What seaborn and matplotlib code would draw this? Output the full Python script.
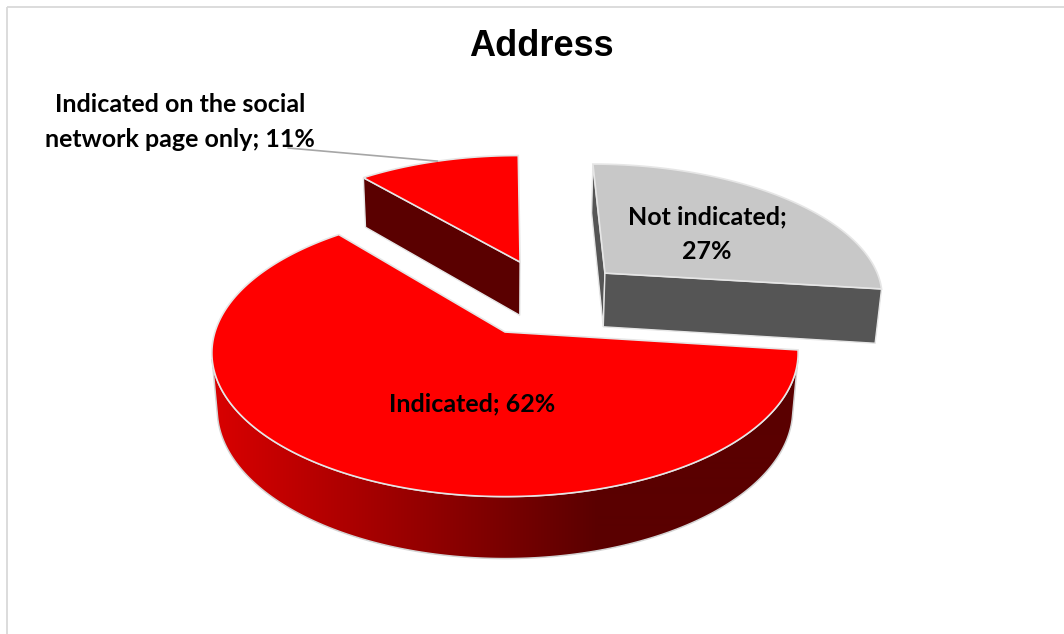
import textwrap

import numpy as np
import matplotlib
matplotlib.use("Agg")
import matplotlib.pyplot as plt
from matplotlib.patches import Polygon, Rectangle
import seaborn as sns

# ---- data -------------------------------------------------------------
title = "Address"
categories = ["Not indicated", "Indicated", "Indicated on the social network page only"]
shares = [27, 62, 11]  # percent

# ---- styling / layout -------------------------------------------------
top_colors = ["#c8c8c8", "#ff0000", "#ff0000"]
cut_colors = ["#555555", "#5a0000", "#5a0000"]
side_ramps = [["#6a6a6a", "#4a4a4a"], ["#d80000", "#5a0000"], ["#d80000", "#5a0000"]]
explode_offsets = [(0.367, 0.446), (0.0, 0.0), (0.056, 0.536)]  # slice shift in pie radii
wrap_widths = [14, 20, 23]
label_xy = [(707, 234), (472, 404), (180, 122)]
draw_order = [2, 0, 1]  # back to front

sns.set_theme(style="white")
plt.rcParams["font.family"] = ["Lato", "DejaVu Sans"]
plt.rcParams["text.color"] = "black"

W, H = 1064, 634
fig = plt.figure(figsize=(W / 100, H / 100), dpi=100)
ax = fig.add_axes([0, 0, 1, 1])
ax.axis("off")

# ---- simple perspective camera for a tilted 3-D pie --------------------
PHI = np.radians(29.0)
DIST = 6.0
SCALE = 290.0
CX, CY = 505.0, 332.0
THICK = 0.225
cphi, sphi = np.cos(PHI), np.sin(PHI)
camera = np.array([0.0, -DIST * cphi, DIST * sphi])


def project(X, Y, Z):
    X, Y, Z = np.asarray(X, float), np.asarray(Y, float), np.asarray(Z, float)
    depth = DIST + Y * cphi - Z * sphi
    sx = X * DIST / depth
    sy = (Y * sphi + Z * cphi) * DIST / depth
    return CX + SCALE * sx, CY - SCALE * sy


def faces_camera(normal, point):
    return np.dot(normal, camera - np.asarray(point)) > 0


EDGE = "#e6e6e6"
bounds = np.radians(360.0 * np.cumsum([0] + shares) / sum(shares))
xs = np.arange(W) + 0.5

for i in draw_order:
    a0, a1 = bounds[i], bounds[i + 1]
    ox, oy = explode_offsets[i]
    n = max(12, int(np.degrees(a1 - a0) * 2))
    th = np.linspace(a0, a1, n)
    rx, ry = ox + np.sin(th), oy + np.cos(th)

    # radial cut faces
    for ang, normal in ((a0, (-np.cos(a0), np.sin(a0), 0.0)),
                        (a1, (np.cos(a1), -np.sin(a1), 0.0))):
        if not faces_camera(normal, (ox, oy, 0.0)):
            continue
        ex, ey = ox + np.sin(ang), oy + np.cos(ang)
        px, py = project([ox, ex, ex, ox], [oy, ey, ey, oy], [0, 0, -THICK, -THICK])
        ax.add_patch(Polygon(np.column_stack([px, py]), closed=True,
                             facecolor=cut_colors[i], edgecolor=EDGE, lw=1.0, zorder=2))

    # outer curved wall, shaded with a horizontal ramp
    tx, ty = project(rx, ry, np.zeros(n))
    bx, by = project(rx, ry, np.full(n, -THICK))
    tm = 0.5 * (th[:-1] + th[1:])
    vis = [j for j in range(n - 1)
           if faces_camera((np.sin(tm[j]), np.cos(tm[j]), 0.0),
                           (ox + np.sin(tm[j]), oy + np.cos(tm[j]), -THICK / 2))]
    if vis:
        k0, k1 = vis[0], vis[-1] + 2
        wall = np.vstack([np.column_stack([tx[k0:k1], ty[k0:k1]]),
                          np.column_stack([bx[k0:k1], by[k0:k1]])[::-1]])
        wall_patch = Polygon(wall, closed=True, facecolor="none",
                             edgecolor="#d4d4d4", lw=1.1, zorder=3)
        ax.add_patch(wall_patch)
        ramp = sns.blend_palette(side_ramps[i], as_cmap=True)
        grad = ramp(np.clip((xs - 215) / (600 - 215), 0, 1))[None, :, :]
        img = ax.imshow(grad, extent=[0, W, H, 0], aspect="auto",
                        interpolation="bilinear", zorder=2.5)
        img.set_clip_path(wall_patch)

    # top face
    px, py = project(np.r_[ox, rx], np.r_[oy, ry], np.zeros(n + 1))
    ax.add_patch(Polygon(np.column_stack([px, py]), closed=True,
                         facecolor=top_colors[i], edgecolor=EDGE, lw=1.2, zorder=4))

# ---- labels -------------------------------------------------------------
for i, (cat, val) in enumerate(zip(categories, shares)):
    text = "\n".join(textwrap.wrap(f"{cat}; {val}%", wrap_widths[i]))
    ax.text(*label_xy[i], text, ha="center", va="center", multialignment="center",
            fontsize=18, fontweight="bold", color="black", linespacing=1.6, zorder=10)

# leader line from the small slice's label to the rim of its slice
k = 2
mid = 0.5 * (bounds[k] + bounds[k + 1])
lx, ly = project(explode_offsets[k][0] + np.sin(mid), explode_offsets[k][1] + np.cos(mid), 0.0)
ax.plot([288, float(lx)], [148, float(ly)], color="#a6a6a6", lw=1.2, zorder=5)

ax.text(541, 47, title, ha="center", va="center", fontsize=26, fontweight="bold",
        color="black", family=["Liberation Sans", "DejaVu Sans"], zorder=10)

# chart frame
ax.add_patch(Rectangle((6.5, 6.5), W + 20, H + 20, fill=False,
                       edgecolor="#d9d9d9", lw=1.3, zorder=1))

ax.set_xlim(0, W)
ax.set_ylim(H, 0)

fig.savefig("out.png", dpi=100, facecolor="white")
